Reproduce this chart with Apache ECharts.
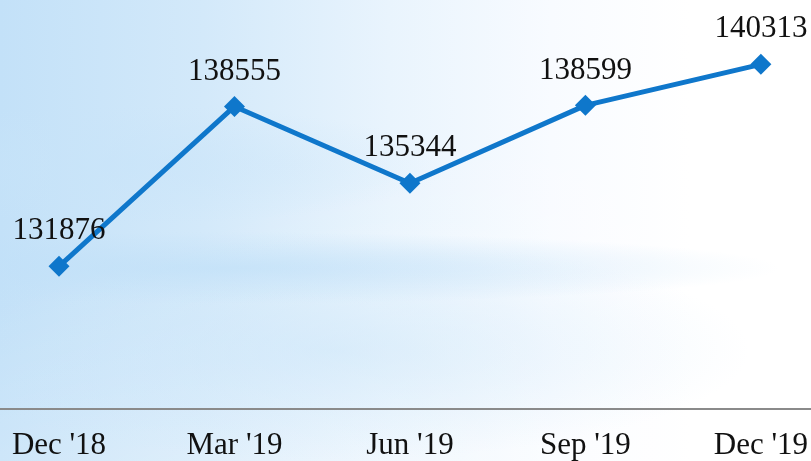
<!DOCTYPE html>
<html>
<head>
<meta charset="utf-8">
<script src="https://cdn.jsdelivr.net/npm/echarts@6/dist/echarts.min.js"></script>
<style>
  html, body { margin: 0; padding: 0; }
  #main {
    width: 811px;
    height: 461px;
    background:
      radial-gradient(ellipse 560px 36px at 220px 268px, rgba(192,224,248,0.7), rgba(192,224,248,0) 100%),
      radial-gradient(ellipse 330px 60px at 120px 165px, rgba(200,228,249,0.55), rgba(200,228,249,0) 100%),
      radial-gradient(ellipse 420px 110px at 330px 350px, rgba(200,228,249,0.5), rgba(200,228,249,0) 100%),
      linear-gradient(160deg, rgba(255,255,255,0) 40%, rgba(255,255,255,0.5) 100%),
      linear-gradient(to right, #c3e1f8 0%, #d3e9fa 25%, #e9f4fd 48%, #f8fbff 68%, #ffffff 85%);
  }
</style>
</head>
<body>
<div id="main"></div>
<script>
// quarters and values
let quarters = ["Dec '18", "Mar '19", "Jun '19", "Sep '19", "Dec '19"]
let values = [131876, 138555, 135344, 138599, 140313]

let chart = echarts.init(document.getElementById('main'))
let serif = '"Liberation Serif", "DejaVu Serif", serif'

let option = {
  backgroundColor: 'transparent',
  animation: false,
  grid: [
    { left: 59, right: 50, top: -3, height: 412 },
    // full-width grid only used to draw the baseline
    { left: 0, right: 0, top: -3, height: 412 }
  ],
  xAxis: [
    {
      type: 'category',
      gridIndex: 0,
      data: quarters,
      boundaryGap: false,
      axisLine: { show: false },
      axisTick: { show: false },
      axisLabel: {
        color: '#111',
        fontFamily: serif,
        fontSize: 31,
        margin: 23
      },
      splitLine: { show: false }
    },
    {
      type: 'value',
      gridIndex: 1,
      axisLine: { show: true, lineStyle: { color: '#8a8a8a', width: 2 } },
      axisTick: { show: false },
      axisLabel: { show: false },
      splitLine: { show: false }
    }
  ],
  yAxis: [
    { type: 'value', gridIndex: 0, min: 126000, max: 143000, show: false },
    { type: 'value', gridIndex: 1, show: false }
  ],
  series: [
    {
      type: 'line',
      data: values,
      symbol: 'diamond',
      symbolSize: 21,
      lineStyle: { color: '#0f77cb', width: 5 },
      itemStyle: { color: '#0f77cb' },
      label: {
        show: true,
        position: 'top',
        distance: 9,
        color: '#111',
        fontFamily: serif,
        fontSize: 31
      }
    }
  ]
}
chart.setOption(option)
</script>
</body>
</html>
